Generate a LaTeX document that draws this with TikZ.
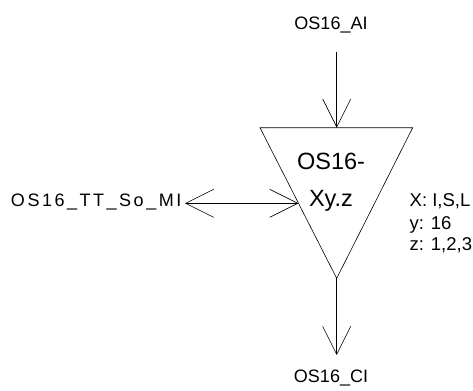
\documentclass[tikz,border=0pt]{standalone}
\usepackage{fontspec}
\setmainfont{Liberation Sans}
\usetikzlibrary{arrows.meta}
\tikzset{
  wire/.style={line width=0.6bp, draw=black},
  barb/.style={-{Straight Barb[length=28bp,width=28bp,line width=0.6bp]}},
  dbarb/.style={{Straight Barb[length=28bp,width=28bp,line width=0.6bp]}-{Straight Barb[length=28bp,width=28bp,line width=0.6bp]}},
  lbl/.style={inner sep=0pt, font=\fontsize{18bp}{21bp}\selectfont},
  big/.style={inner sep=0pt, align=center, font=\fontsize{23.5bp}{37bp}\selectfont},
  note/.style={inner sep=0pt, anchor=base west, font=\fontsize{18.5bp}{21.8bp}\selectfont},
}
\begin{document}
\begin{tikzpicture}[x=1bp,y=-1bp]
\useasboundingbox (0,0) rectangle (473,390);
% triangle
\coordinate (tl) at (260,127.7);
\coordinate (tr) at (412.7,127.7);
\coordinate (apex) at (336.7,278.3);
\coordinate (topmid) at (336.7,127.7);
\coordinate (lefthit) at (298.4,203.3);
\draw[wire, line join=miter] (tl) -- (tr) -- (apex) -- cycle;
\node[big] (name) at (331,182) {OS16-\\Xy.z};
% labels
\node[lbl] (ai) at (331,24.5) {OS16\_AI};
\node[lbl] (ci) at (331,378) {OS16\_CI};
\node[lbl, anchor=east] (mi) at (181.5,202) {\addfontfeature{LetterSpace=14}OS16\_TT\_So\_MI};
\node[note] (legx) at (409.5,206.5) {X: I,S,L};
\node[note] (legy) at (409.5,229.5) {y: 16};
\node[note] (legz) at (409.5,250.5) {z: 1,2,3};
% connectors
\coordinate (aiend) at (336.7,51.7);
\coordinate (ciend) at (336.7,355);
\coordinate (miend) at (185,203.3);
\draw[wire, barb] (aiend) -- (topmid);
\draw[wire, barb] (apex) -- (ciend);
\draw[wire, dbarb] (miend) -- (lefthit);
\end{tikzpicture}
\end{document}
